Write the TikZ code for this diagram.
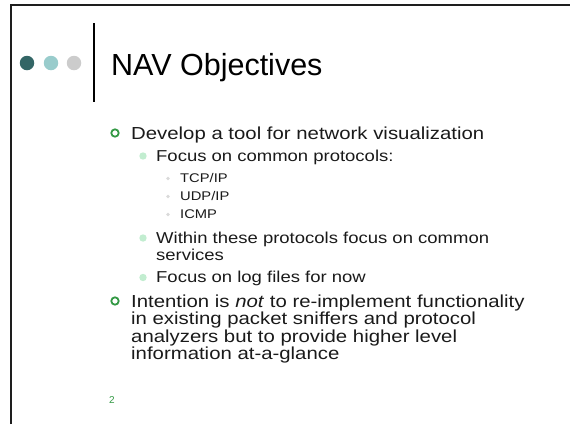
\documentclass[tikz,border=0pt]{standalone}
\usepackage{fontspec}
\setmainfont{Liberation Sans}
\newfontfamily\bodyfont[FakeStretch=1.17]{Liberation Sans}

\definecolor{frameink}{HTML}{1E1E1E}
\definecolor{dotdark}{HTML}{336666}
\definecolor{dotmid}{HTML}{99CCCC}
\definecolor{dotlight}{HTML}{CCCCCC}
\definecolor{ringgreen}{HTML}{339944}
\definecolor{discgreen}{HTML}{C2EDD0}
\definecolor{subgray}{HTML}{DADADA}
\definecolor{textink}{HTML}{1A1A1A}

\tikzset{
  lvlone/.style={anchor=base west, inner sep=0pt, text=textink,
    font=\bodyfont\fontsize{17.4}{17.5}\selectfont},
  lvltwo/.style={anchor=base west, inner sep=0pt, text=textink,
    font=\bodyfont\fontsize{15.8}{16}\selectfont},
  lvlthree/.style={anchor=base west, inner sep=0pt, text=textink,
    font=\bodyfont\fontsize{12.6}{13}\selectfont},
  ringbullet/.style={circle, draw=ringgreen, line width=1.8pt,
    minimum size=7.4pt, inner sep=0pt},
  discbullet/.style={circle, fill=discgreen, minimum size=7.4pt, inner sep=0pt},
  tinybullet/.style={circle, fill=subgray, minimum size=3.6pt, inner sep=0pt},
  deco/.style={circle, minimum size=14.5pt, inner sep=0pt},
}

\begin{document}
\begin{tikzpicture}[x=1pt, y=-1pt]
  \useasboundingbox (0,0) rectangle (570,424);

  % slide frame (top and left edges)
  \draw[frameink, line width=2pt] (11,424) -- (11,5) -- (570,5);

  % header decoration: three dots and a divider
  \node[deco, fill=dotdark]  (d1) at (27,63) {};
  \node[deco, fill=dotmid]   (d2) at (51,63) {};
  \node[deco, fill=dotlight] (d3) at (74,63) {};
  \coordinate (divtop) at (94,23);
  \coordinate (divbot) at (94,102);
  \draw[black, line width=1.6pt] (divtop) -- (divbot);

  % title
  \node[anchor=base west, inner sep=0pt, text=black,
        font=\fontsize{30.5}{31}\selectfont] (title) at (111,75.5) {NAV Objectives};

  % first point
  \node[ringbullet] (r1) at (115,133) {};
  \node[lvlone] (p1) at (131,139) {Develop a tool for network visualization};

  \node[discbullet] (s1) at (143,156) {};
  \node[lvltwo] (p11) at (156,161) {Focus on common protocols:};

  \node[tinybullet] (t1) at (168,178.5) {};
  \node[lvlthree] (p111) at (180,182.7) {TCP/IP};
  \node[tinybullet] (t2) at (168,196.5) {};
  \node[lvlthree] (p112) at (180,200.7) {UDP/IP};
  \node[tinybullet] (t3) at (168,214.5) {};
  \node[lvlthree] (p113) at (180,218.7) {ICMP};

  \node[discbullet] (s2) at (143,238) {};
  \node[lvltwo] (p12a) at (156,243) {Within these protocols focus on common};
  \node[lvltwo] (p12b) at (156,260) {services};

  \node[discbullet] (s3) at (143,277.5) {};
  \node[lvltwo] (p13) at (156,282.5) {Focus on log files for now};

  % second point
  \node[ringbullet] (r2) at (115,301) {};
  \node[lvlone] (p2a) at (131,307) {Intention is \textit{not} to re-implement functionality};
  \node[lvlone] (p2b) at (131,324.5) {in existing packet sniffers and protocol};
  \node[lvlone] (p2c) at (131,342) {analyzers but to provide higher level};
  \node[lvlone] (p2d) at (131,359.5) {information at-a-glance};

  % page number
  \node[anchor=base west, inner sep=0pt, text=ringgreen,
        font=\fontsize{10}{10}\selectfont] (pagenum) at (109,403) {2};
\end{tikzpicture}
\end{document}
